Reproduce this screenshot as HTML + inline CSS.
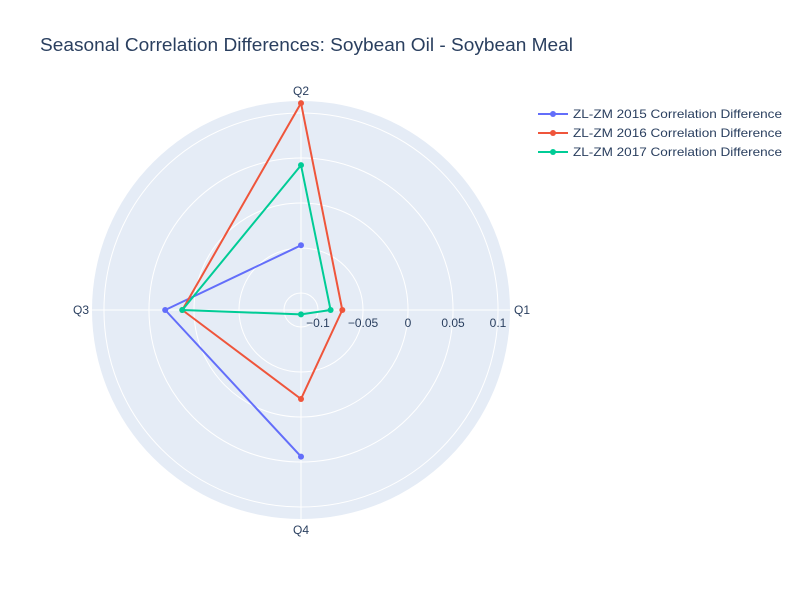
<!DOCTYPE html>
<html><head><meta charset="utf-8"><style>
body{margin:0;background:#fff;font-family:"Liberation Sans",Arial,sans-serif}
svg text{font-family:"Liberation Sans",Arial,sans-serif}
</style></head><body>
<svg id="chart" width="800" height="600" xmlns="http://www.w3.org/2000/svg">
<rect width="800" height="600" fill="#fff"/>
<text x="40" y="51" font-size="18" fill="#2a3f5f" textLength="533" lengthAdjust="spacingAndGlyphs">Seasonal Correlation Differences: Soybean Oil - Soybean Meal</text>
<g id="plot"></g>
<g id="legend"></g>
</svg>
<script>
const categories = ["Q1","Q2","Q3","Q4"];
const seriesNames = ["ZL-ZM 2015 Correlation Difference","ZL-ZM 2016 Correlation Difference","ZL-ZM 2017 Correlation Difference"];
const values2015 = [null, -0.047, 0.032, 0.044];
const values2016 = [-0.073, 0.111, 0.013, -0.020];
const values2017 = [-0.086, 0.042, 0.013, -0.114];
const radialTicks = [-0.1, -0.05, 0, 0.05, 0.1];
const radialTickLabels = ["\u22120.1","\u22120.05","0","0.05","0.1"];
const colors = ["#636efa","#ef553b","#00cc96"];
const series = [values2015, values2016, values2017];

const cx=301, cy=310, R=209, rMin=-0.1189, rMax=0.1133;
const NS="http://www.w3.org/2000/svg";
const plot=document.getElementById('plot');
function rScale(v){return (v-rMin)/(rMax-rMin)*R;}
function aScale(i){return i*Math.PI/2;}
function pt(i,v){const r=rScale(v),a=aScale(i);return [cx+r*Math.cos(a), cy-r*Math.sin(a)];}
function mk(tag,attrs,parent){const e=document.createElementNS(NS,tag);for(const k in attrs)e.setAttribute(k,attrs[k]);(parent||plot).appendChild(e);return e;}

const bg=mk('circle',{cx:cx,cy:cy,r:R,fill:'#e5ecf6'});


radialTicks.forEach(t=>{
  const c=mk('circle',{cx:cx,cy:cy,r:rScale(t),fill:'none',stroke:'#fff','stroke-width':1});
  
  
});
const labelPos=[[514,314,'start'],[301,95,'middle'],[89,314,'end'],[301,534,'middle']];
categories.forEach((c,i)=>{
  const [x,y]=pt(i,rMax);
  const l=mk('line',{x1:cx,y1:cy,x2:x,y2:y,stroke:'#fff','stroke-width':1});
  
  
  const p=labelPos[i];
  const t=mk('text',{x:p[0],y:p[1],'font-size':12,fill:'#2a3f5f','text-anchor':p[2]});
  t.textContent=c;
  
  
});
radialTicks.forEach((t,i)=>{
  const x=cx+rScale(t);
  const tx=mk('text',{x:x,y:cy+17,'font-size':12,fill:'#2a3f5f','text-anchor':'middle'});
  tx.textContent=radialTickLabels[i];
  
  
});
series.forEach((vals,s)=>{
  const g=mk('g',{});
  
  
  const idx=[0,1,2,3,0];
  let d='', pen=false;
  idx.forEach(i=>{
    const v=vals[i];
    if(v===null||v===undefined){pen=false;return;}
    const [x,y]=pt(i,v);
    d+=(pen?'L':'M')+x.toFixed(1)+','+y.toFixed(1);pen=true;
  });
  const p=mk('path',{d:d,fill:'none',stroke:colors[s],'stroke-width':2,'stroke-linejoin':'round'},g);
  
  
  vals.forEach((v,i)=>{
    if(v===null)return;
    const [x,y]=pt(i,v);
    const c=mk('circle',{cx:x,cy:y,r:3,fill:colors[s]},g);
    
    
  });
});
const leg=document.getElementById('legend');
seriesNames.forEach((n,s)=>{
  const y=114+s*19;
  const g=mk('g',{},leg);
  
  
  mk('line',{x1:538,y1:y,x2:568,y2:y,stroke:colors[s],'stroke-width':2},g);
  mk('circle',{cx:553,cy:y,r:3,fill:colors[s]},g);
  const t=mk('text',{x:573,y:y+4,'font-size':12,fill:'#2a3f5f',textLength:209,lengthAdjust:'spacingAndGlyphs'},g);
  t.textContent=n;
});
</script>
</body></html>
